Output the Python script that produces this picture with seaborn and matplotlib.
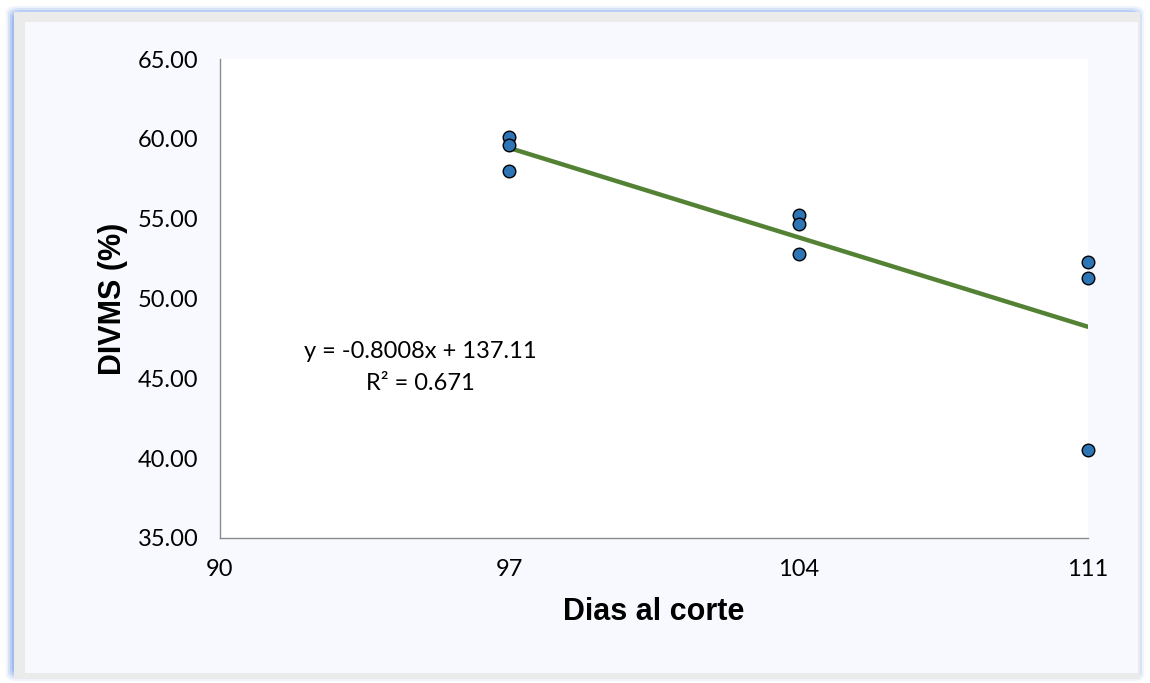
import numpy as np
import pandas as pd
import matplotlib
matplotlib.use("Agg")
import matplotlib.pyplot as plt
from matplotlib.patches import FancyBboxPatch, Rectangle
import seaborn as sns

# ---- data ----
dias = [97, 97, 97, 104, 104, 104, 111, 111, 111]
divms = [60.1, 59.6, 58.0, 55.2, 54.65, 52.8, 52.3, 51.3, 40.5]
x_ticks = [90, 97, 104, 111]
y_ticks = [35, 40, 45, 50, 55, 60, 65]
eq_text = "y = -0.8008x + 137.11"
r2_text = "R\u00b2 = 0.671"

df = pd.DataFrame({"Dias al corte": dias, "DIVMS (%)": divms})

sns.set_theme(style="white")
plt.rcParams["font.family"] = ["Lato", "DejaVu Sans"]
plt.rcParams["text.color"] = "black"
plt.rcParams["axes.labelcolor"] = "black"

fig = plt.figure(figsize=(11.5, 6.83), dpi=100)
fig.patch.set_facecolor("white")

# decorative frame: blue glow, gray border, light panel
W, H = 1150, 683
def fx(px): return px / W
def fy(py): return 1 - py / H
for i, a in enumerate([0.15, 0.25, 0.4, 0.6]):
    off = 8 - 2 * i
    fig.patches.append(FancyBboxPatch((fx(6 + 8 - off), fy(683 - 2 - 8 + off)),
                                      fx(1150 - 2 * (6 + 8 - off)), (683 - 2 * (4 + 8 - off)) / H,
                                      boxstyle="round,pad=0,rounding_size=0.01",
                                      transform=fig.transFigure, facecolor="#8fb0f0",
                                      edgecolor="none", alpha=a, zorder=-10))
fig.patches.append(Rectangle((fx(14), fy(679)), fx(1140 - 14), (679 - 12) / H,
                             transform=fig.transFigure, facecolor="#EBEBEB",
                             edgecolor="none", zorder=-9))
fig.patches.append(Rectangle((fx(25), fy(673)), fx(1138 - 25), (673 - 22) / H,
                             transform=fig.transFigure, facecolor="#F8F9FE",
                             edgecolor="none", zorder=-8))

ax = fig.add_axes([220 / W, 1 - 538 / H, (1088 - 220) / W, (538 - 59) / H])
ax.set_facecolor("white")

sns.regplot(data=df, x="Dias al corte", y="DIVMS (%)", ax=ax, scatter=False, ci=None,
            line_kws={"color": "#548235", "linewidth": 3.2, "zorder": 2})
sns.scatterplot(data=df, x="Dias al corte", y="DIVMS (%)", ax=ax, s=82,
                color="#2E75B6", edgecolor="black", linewidth=1.0, zorder=3, clip_on=False)

ax.set_xlim(90, 111)
ax.set_ylim(35, 65)
ax.set_xticks(x_ticks)
ax.set_xticklabels([str(t) for t in x_ticks])
ax.set_yticks(y_ticks)
ax.set_yticklabels([f"{t:.2f}" for t in y_ticks])
ax.tick_params(axis="both", labelsize=17, colors="black", length=0)
ax.tick_params(axis="y", pad=15.5)
ax.tick_params(axis="x", pad=15)
for lbl in ax.get_xticklabels() + ax.get_yticklabels():
    lbl.set_color("black")

for s in ["top", "right"]:
    ax.spines[s].set_visible(False)
for s in ["left", "bottom"]:
    ax.spines[s].set_color("#8C8C8C")
    ax.spines[s].set_linewidth(1.0)

ax.set_xlabel("Dias al corte", fontsize=22, fontweight="bold", color="black",
              family=["Liberation Sans", "DejaVu Sans"])
ax.set_ylabel("DIVMS (%)", fontsize=22, fontweight="bold", color="black",
              family=["Liberation Sans", "DejaVu Sans"])
ax.yaxis.set_label_coords((113 - 220) / 868, 0.5)
ax.xaxis.set_label_coords(0.5, (538 - 612) / 479)
ax.yaxis.label.set_va("center")
ax.xaxis.label.set_va("center")

ax.text(94.84, 46.65, eq_text, ha="center", va="center", fontsize=17, color="black")
ax.text(94.84, 44.65, r2_text, ha="center", va="center", fontsize=17, color="black")

fig.savefig("out.png", dpi=100)
